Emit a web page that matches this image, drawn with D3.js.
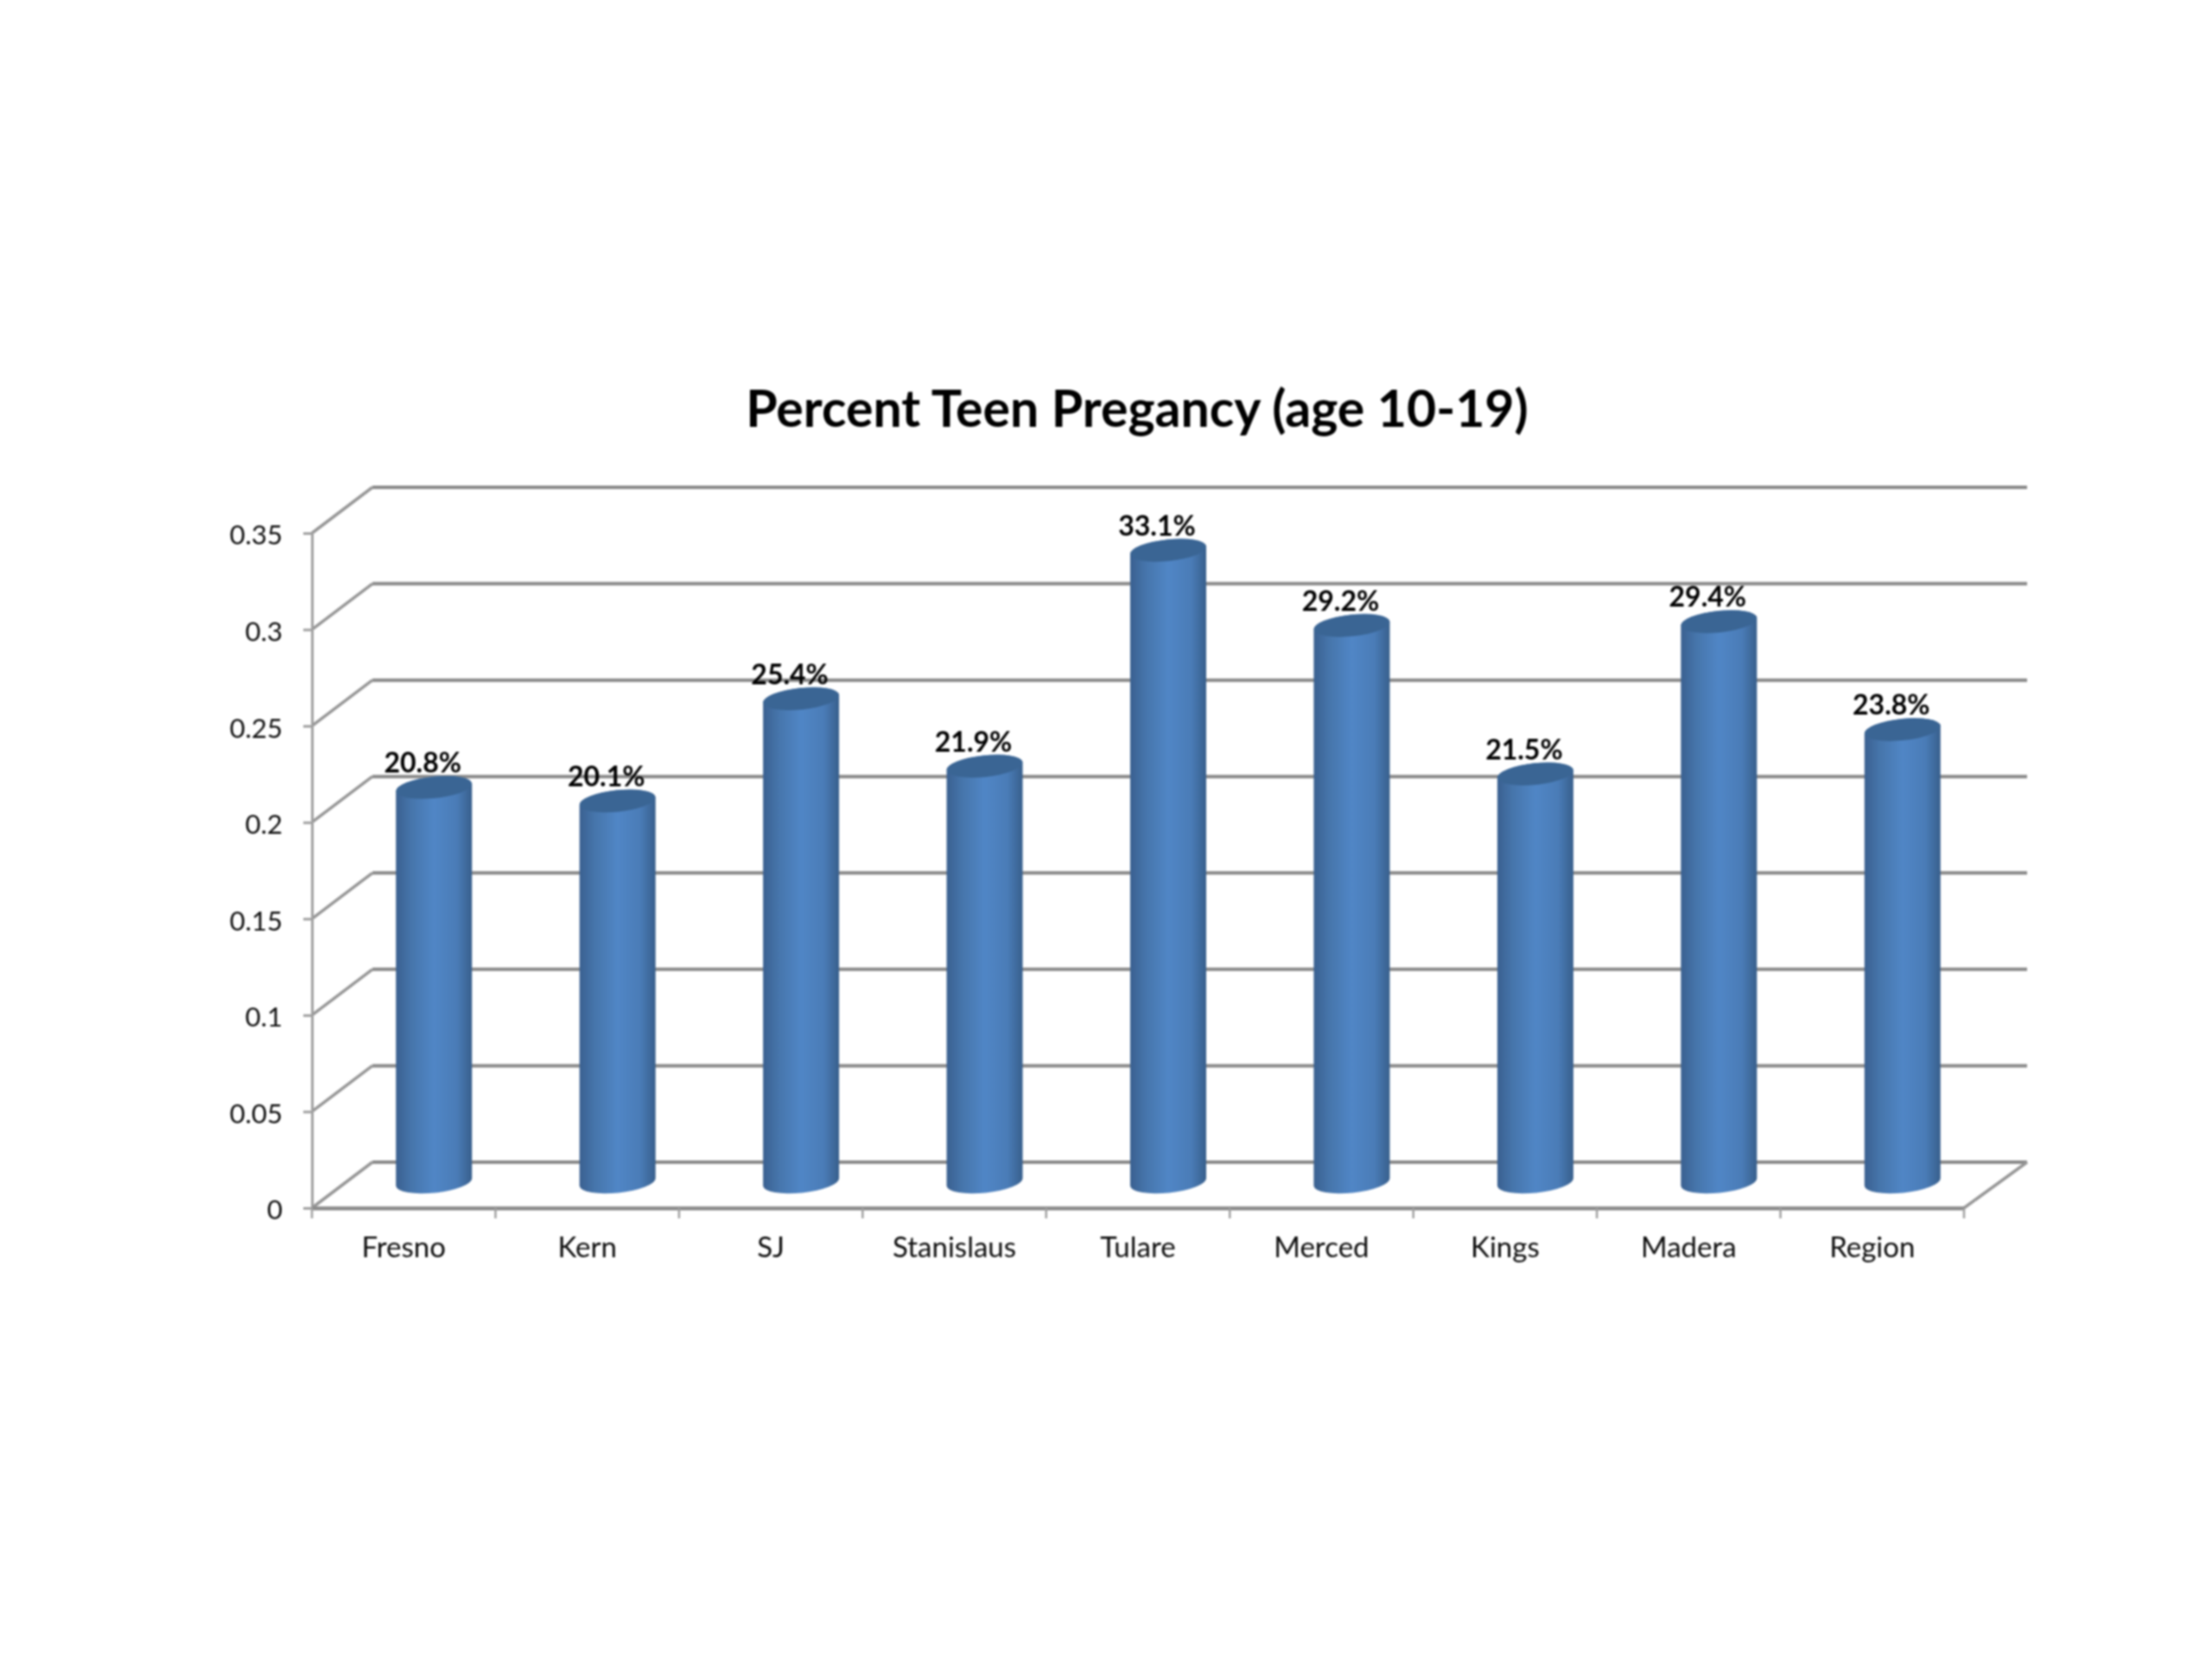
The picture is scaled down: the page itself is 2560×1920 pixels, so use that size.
<!DOCTYPE html>
<html>
<head>
<meta charset="utf-8">
<script src="https://cdn.jsdelivr.net/npm/d3@7"></script>
<style>
  html, body { margin: 0; padding: 0; background: #fff; }
  text { font-family: Lato, "Open Sans", sans-serif; }
  svg { display: block; filter: blur(0.9px); }
</style>
</head>
<body>
<div id="chart"></div>
<script>
// chart data
var categories = ["Fresno", "Kern", "SJ", "Stanislaus", "Tulare", "Merced", "Kings", "Madera", "Region"];
var values = [0.208, 0.201, 0.254, 0.219, 0.331, 0.292, 0.215, 0.294, 0.238];
var yTicks = [0, 0.05, 0.1, 0.15, 0.2, 0.25, 0.3, 0.35];
var title = "Percent Teen Pregancy (age 10-19)";

var svgwdth = 2560;
var svghght = 1920;

// front plane of the fake 3d box
var plot = {left: 361, right: 2273, top: 617, bottom: 1398};
// how far the back wall is pushed from the front plane
var depth = {x: 70, y: -53};
var backRight = 2346;

var barWidth = 88;
var rx = barWidth / 2, ry = 12.5, tilt = -6;
var dy = rx * Math.sin(tilt * Math.PI / 180);

var svg = d3.select("#chart").append("svg")
  .attr("width", svgwdth)
  .attr("height", svghght);

var x = d3.scaleBand().domain(categories).range([plot.left, plot.right]);
var y = d3.scaleLinear().domain([0, 0.35]).range([plot.bottom, plot.top]);

// gradient for the cylinder side
var grad = svg.append("defs").append("linearGradient").attr("id", "cyl");
[[0, "#3a6090"], [0.2, "#4675ab"], [0.5, "#5086c6"], [0.8, "#4a7cb7"], [1, "#385f8c"]].forEach(function(s) {
  grad.append("stop").attr("offset", s[0]).attr("stop-color", s[1]);
});

var gridColor = "#8a8a8a";
var grid = svg.append("g");

// back wall lines
grid.selectAll(".back").data(yTicks).enter().append("line")
  .attr("x1", plot.left + depth.x)
  .attr("x2", backRight)
  .attr("y1", d => y(d) + depth.y)
  .attr("y2", d => y(d) + depth.y)
  .attr("stroke", gridColor).attr("stroke-width", 4);

// side wall lines
grid.selectAll(".side").data(yTicks).enter().append("line")
  .attr("x1", plot.left)
  .attr("x2", plot.left + depth.x)
  .attr("y1", d => y(d))
  .attr("y2", d => y(d) + depth.y)
  .attr("stroke", "#969696").attr("stroke-width", 3.5);

// floor, right edge
grid.append("line")
  .attr("x1", plot.right).attr("y1", plot.bottom)
  .attr("x2", backRight).attr("y2", plot.bottom + depth.y)
  .attr("stroke", "#969696").attr("stroke-width", 3.5);

// axes
var leftAxis = d3.axisLeft(y)
  .tickValues(yTicks)
  .tickFormat(d => d)
  .tickSize(10)
  .tickPadding(24);

var yAxis = svg.append("g")
  .attr("transform", `translate(${plot.left}, 0)`)
  .call(leftAxis);

var bottomAxis = d3.axisBottom(x)
  .tickSize(0)
  .tickPadding(34);

var xAxis = svg.append("g")
  .attr("transform", `translate(0, ${plot.bottom})`)
  .call(bottomAxis);

// category separators sit between the bands
xAxis.selectAll(".sep").data(categories.concat([null])).enter().append("line")
  .attr("x1", (d, i) => plot.left + i * x.bandwidth())
  .attr("x2", (d, i) => plot.left + i * x.bandwidth())
  .attr("y1", 0).attr("y2", 12)
  .attr("stroke", "#a0a0a0").attr("stroke-width", 2.5);

yAxis.selectAll("path,line").attr("stroke", "#a0a0a0").attr("stroke-width", 3);
xAxis.select("path").attr("stroke", "#8a8a8a").attr("stroke-width", 4.5);
yAxis.selectAll("text").attr("font-size", 31).attr("fill", "#0d0d0d").attr("y", 3).style("font-family", "Lato");
xAxis.selectAll("text").attr("font-size", 33).attr("fill", "#0d0d0d").style("font-family", "Lato");

// bars
var floorY = y(0) - 30;
var barX = d => x(d) + x.bandwidth() / 2 + depth.x / 2;
var topY = v => y(v) + depth.y / 2 + 4;

var bars = svg.append("g").selectAll("g")
  .data(categories.map((c, i) => ({cat: c, val: values[i]})))
  .enter().append("g");

bars.append("path")
  .attr("fill", "url(#cyl)")
  .attr("d", function(d) {
    var cx = barX(d.cat), t = topY(d.val);
    return `M${cx - rx},${t - dy} L${cx - rx},${floorY - dy}
      A${rx},${ry} ${tilt} 0 0 ${cx + rx},${floorY + dy}
      L${cx + rx},${t + dy} A${rx},${ry} ${tilt} 0 0 ${cx - rx},${t - dy} Z`;
  });

bars.append("ellipse")
  .attr("cx", 0).attr("cy", 0)
  .attr("rx", rx).attr("ry", ry)
  .attr("fill", "#3a6594")
  .attr("transform", d => `translate(${barX(d.cat)}, ${topY(d.val)}) rotate(${tilt})`);

// data labels
bars.append("text")
  .attr("x", d => barX(d.cat) - 13)
  .attr("y", d => topY(d.val) - 17)
  .attr("text-anchor", "middle")
  .attr("font-size", 32)
  .attr("font-weight", "bold")
  .attr("fill", "#000")
  .text(d => (d.val * 100).toFixed(1) + "%");

// title
svg.append("text")
  .attr("x", 1316)
  .attr("y", 494)
  .attr("text-anchor", "middle")
  .attr("font-size", 59)
  .attr("font-weight", "bold")
  .attr("fill", "#000")
  .text(title);
</script>
</body>
</html>
